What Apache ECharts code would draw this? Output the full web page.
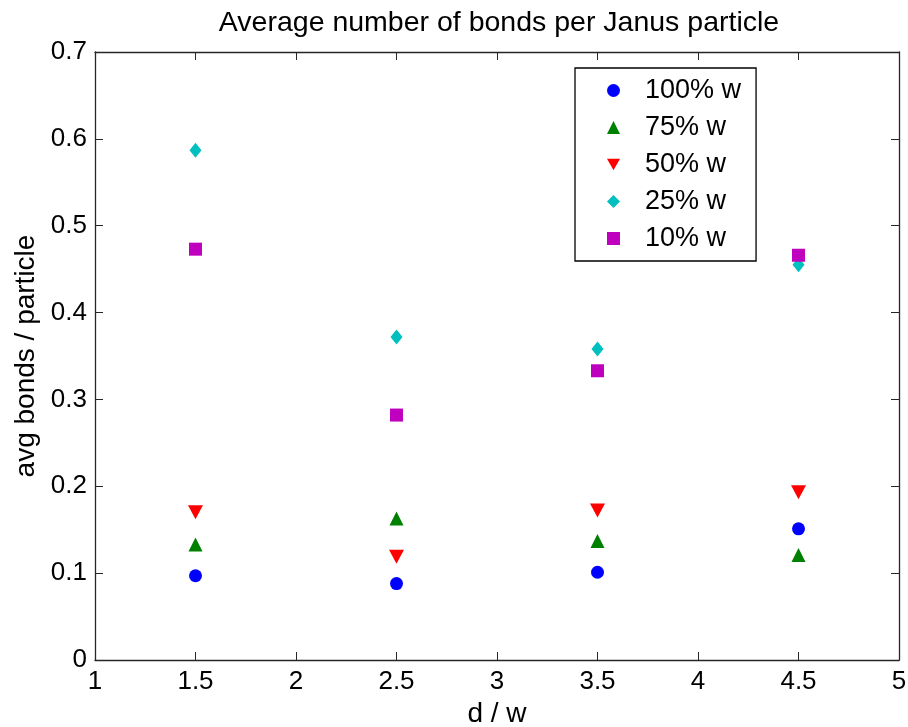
<!DOCTYPE html>
<html>
<head>
<meta charset="utf-8">
<title>Average number of bonds per Janus particle</title>
<script src="https://cdn.jsdelivr.net/npm/echarts@6/dist/echarts.min.js"></script>
<style>
  html, body { margin: 0; padding: 0; background: #fff; }
  #main { width: 908px; height: 727px; }
</style>
</head>
<body>
<div id="main"></div>
<script>
// data
var dw = [1.5, 2.5, 3.5, 4.5];
var w100 = [0.097, 0.088, 0.101, 0.151];
var w75  = [0.133, 0.163, 0.137, 0.121];
var w50  = [0.170, 0.119, 0.172, 0.193];
var w25  = [0.587, 0.372, 0.358, 0.455];
var w10  = [0.473, 0.282, 0.333, 0.466];
var names = ['100% w', '75% w', '50% w', '25% w', '10% w'];

var font = 'Liberation Sans, Arial, sans-serif';
var axisCol = '#262626';

function pairs(ys) {
  return dw.map(function (x, i) { return [x, ys[i]]; });
}

function makeSeries(name, ys, symbol, size, color) {
  return {
    name: name,
    type: 'scatter',
    data: pairs(ys),
    symbol: symbol,
    symbolSize: size,
    itemStyle: { color: color, opacity: 1 },
    emphasis: { disabled: true }
  };
}

var frame = {
  axisLine: { show: true, onZero: false, lineStyle: { color: axisCol, width: 1.3 } },
  axisTick: { show: true, inside: true, length: 8, lineStyle: { color: axisCol } },
  splitLine: { show: false }
};

var myChart = echarts.init(document.getElementById('main'), null, { renderer: 'canvas' });
var option = {
  backgroundColor: '#fff',
  animation: false,
  title: {
    text: 'Average number of bonds per Janus particle',
    left: 494, top: 4, textAlign: 'center',
    textStyle: { fontFamily: font, fontSize: 28.5, fontWeight: 'normal', color: '#000' }
  },
  grid: { left: 95, right: 9, top: 52, bottom: 67, containLabel: false, outerBoundsMode: 'none' },
  legend: {
    orient: 'vertical',
    left: 575, top: 68,
    data: names,
    itemWidth: 13, itemHeight: 13,
    itemGap: 10,
    padding: [9, 15, 9, 32],
    borderColor: '#000', borderWidth: 1.3,
    backgroundColor: '#fff',
    textStyle: { fontFamily: font, fontSize: 27, color: '#000', lineHeight: 27, padding: [0, 0, 0, 20] }
  },
  xAxis: [
    Object.assign({
      type: 'value', min: 1, max: 5, interval: 0.5, position: 'bottom',
      name: 'd / w', nameLocation: 'middle', nameGap: 40,
      nameTextStyle: { fontFamily: font, fontSize: 28, color: '#000' },
      axisLabel: { fontFamily: font, fontSize: 26, color: '#000', margin: 9 }
    }, frame),
    Object.assign({
      type: 'value', min: 1, max: 5, interval: 0.5, position: 'top',
      axisLabel: { show: false }
    }, frame)
  ],
  yAxis: [
    Object.assign({
      type: 'value', min: 0, max: 0.7, interval: 0.1, position: 'left',
      name: 'avg bonds / particle', nameLocation: 'middle', nameGap: 53,
      nameTextStyle: { fontFamily: font, fontSize: 28, color: '#000' },
      axisLabel: { fontFamily: font, fontSize: 26, color: '#000', margin: 8 }
    }, frame),
    Object.assign({
      type: 'value', min: 0, max: 0.7, interval: 0.1, position: 'right',
      axisLabel: { show: false }
    }, frame)
  ],
  series: [
    makeSeries(names[0], w100, 'circle', 13, '#0000ff'),
    makeSeries(names[1], w75, 'triangle', 14, '#008000'),
    makeSeries(names[2], w50, 'path://M0,0 L10,0 L5,9 Z', [15, 14], '#ff0000'),
    makeSeries(names[3], w25, 'diamond', [12, 15], '#00bfbf'),
    makeSeries(names[4], w10, 'rect', 13, '#bf00bf')
  ]
};
myChart.setOption(option);
</script>
</body>
</html>
